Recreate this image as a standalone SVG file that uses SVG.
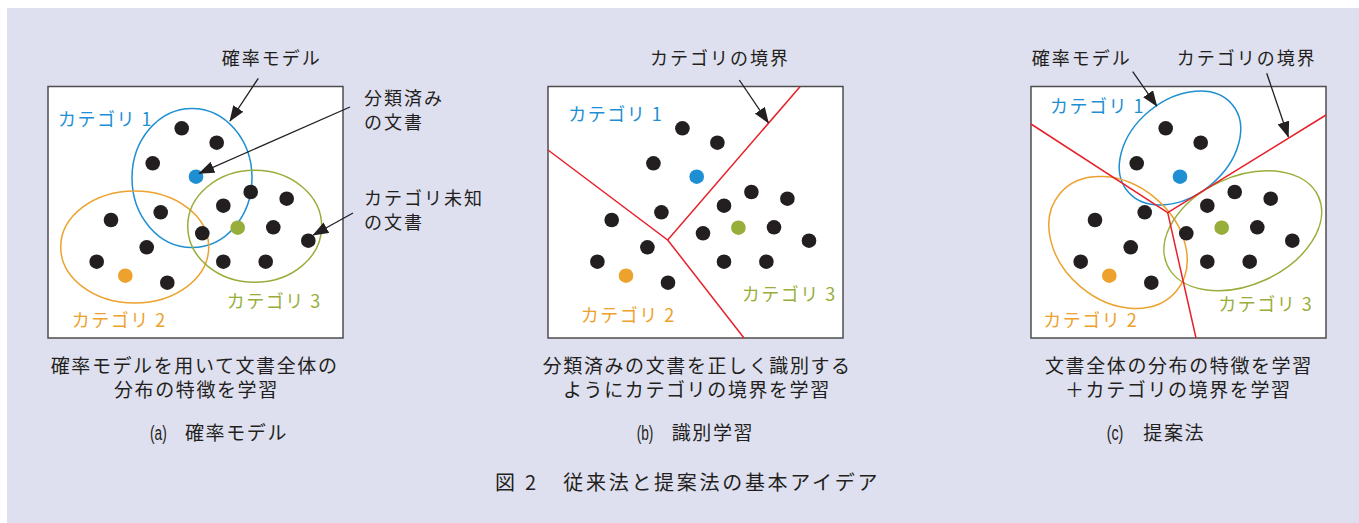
<svg xmlns="http://www.w3.org/2000/svg" width="1359" height="523" viewBox="0 0 1359 523">
<style>
.t{font-family:"Noto Sans CJK JP","Noto Sans",sans-serif;fill:#231f20;}
.lab{font-size:18px;letter-spacing:2px;}
.cap{font-size:19px;letter-spacing:1.6px;}
.ttl{font-size:20px;letter-spacing:2.7px;}
.par{font-family:"Liberation Sans",sans-serif;font-size:20px;fill:#231f20;}
.c1{fill:#1e8fd2;font-size:18px;letter-spacing:1.5px;}
.c2{fill:#eda22e;font-size:18px;letter-spacing:1.5px;}
.c3{fill:#98ae3a;font-size:18px;letter-spacing:1.5px;}
.box{fill:#fff;stroke:#4d4d4d;stroke-width:1.5;}
.e1{fill:none;stroke:#1e8fd2;stroke-width:1.5;}
.e2{fill:none;stroke:#eda22e;stroke-width:1.5;}
.e3{fill:none;stroke:#98ae3a;stroke-width:1.5;}
.bd{fill:none;stroke:#e8202a;stroke-width:1.5;}
.ar{stroke:#231f20;stroke-width:1.3;fill:none;marker-end:url(#ah);}
.k{fill:#231f20;}
.b{fill:#1e8fd2;}
.o{fill:#eda22e;}
.g{fill:#98ae3a;}
</style>
<defs>
<marker id="ah" markerUnits="userSpaceOnUse" markerWidth="16" markerHeight="12" refX="15" refY="6" orient="auto">
<path d="M0,0 L16,6 L0,12 Z" fill="#231f20"/>
</marker>
<g id="dots">
<circle class="k" cx="181.7" cy="128.3" r="7.3"/>
<circle class="k" cx="216.7" cy="142.7" r="7.3"/>
<circle class="k" cx="152.7" cy="163.3" r="7.3"/>
<circle class="b" cx="196" cy="176.7" r="7.3"/>
<circle class="k" cx="160.7" cy="212.3" r="7.3"/>
<circle class="k" cx="111" cy="220" r="7.3"/>
<circle class="k" cx="146.7" cy="247.3" r="7.3"/>
<circle class="k" cx="96.7" cy="261.7" r="7.3"/>
<circle class="o" cx="125.3" cy="275.7" r="7.3"/>
<circle class="k" cx="167.3" cy="282.7" r="7.3"/>
<circle class="k" cx="250.7" cy="192" r="7.3"/>
<circle class="k" cx="286.7" cy="198.7" r="7.3"/>
<circle class="k" cx="223.3" cy="205.7" r="7.3"/>
<circle class="k" cx="202.3" cy="233.3" r="7.3"/>
<circle class="g" cx="237.7" cy="227.7" r="7.3"/>
<circle class="k" cx="273.3" cy="227.3" r="7.3"/>
<circle class="k" cx="308.3" cy="240.7" r="7.3"/>
<circle class="k" cx="223.3" cy="261.7" r="7.3"/>
<circle class="k" cx="265.7" cy="261.7" r="7.3"/>
</g>
</defs>
<rect x="0" y="0" width="1359" height="523" fill="#fff"/>
<rect x="7" y="8" width="1352" height="515" fill="#dfe0ef"/>

<g id="panel-a">
<rect class="box" x="48" y="86.5" width="295" height="251.5"/>
<ellipse class="e1" cx="192" cy="178" rx="60" ry="69.5"/>
<ellipse class="e2" cx="134.7" cy="247" rx="74" ry="56"/>
<ellipse class="e3" cx="254.7" cy="226.3" rx="67" ry="56"/>
<use href="#dots"/>
<text class="t c1" x="58" y="126">カテゴリ 1</text>
<text class="t c2" x="71.7" y="327">カテゴリ 2</text>
<text class="t c3" x="226.7" y="307.5">カテゴリ 3</text>
</g>

<g id="panel-b">
<rect class="box" x="548" y="86.5" width="295" height="251.5"/>
<polyline class="bd" points="548,150 667.7,240 800,86.7"/>
<line class="bd" x1="667.7" y1="240" x2="744" y2="338"/>
<use href="#dots" transform="translate(500.7,0)"/>
<text class="t c1" x="568.3" y="120.5">カテゴリ 1</text>
<text class="t c2" x="580.7" y="322">カテゴリ 2</text>
<text class="t c3" x="741.7" y="300.5">カテゴリ 3</text>
</g>

<g id="panel-c">
<rect class="box" x="1031" y="86.5" width="295" height="251.5"/>
<ellipse class="e1" cx="1180" cy="148" rx="68" ry="48" transform="rotate(-39.6 1180 148)"/>
<ellipse class="e2" cx="1118" cy="242.5" rx="76" ry="58" transform="rotate(40 1118 242.5)"/>
<ellipse class="e3" cx="1242.8" cy="230.8" rx="83" ry="54" transform="rotate(-24.3 1242.8 230.8)"/>
<polyline class="bd" points="1031,124 1167.7,212.7 1326,115"/>
<line class="bd" x1="1167.7" y1="212.7" x2="1196" y2="338"/>
<use href="#dots" transform="translate(984,0)"/>
<text class="t c1" x="1050" y="113">カテゴリ 1</text>
<text class="t c2" x="1043.3" y="327">カテゴリ 2</text>
<text class="t c3" x="1218.3" y="310.5">カテゴリ 3</text>
</g>

<g id="callouts">
<text class="t lab" x="221.7" y="65">確率モデル</text>
<text class="t lab" x="364" y="105">分類済み</text>
<text class="t lab" x="364" y="129">の文書</text>
<text class="t lab" x="364" y="205">カテゴリ未知</text>
<text class="t lab" x="364" y="229">の文書</text>
<text class="t lab" x="650" y="65">カテゴリの境界</text>
<text class="t lab" x="1031.7" y="65">確率モデル</text>
<text class="t lab" x="1176.7" y="65">カテゴリの境界</text>
</g>

<g id="connectors">
<line class="ar" x1="258.3" y1="78.3" x2="230" y2="121"/>
<line class="ar" x1="350" y1="107" x2="199.3" y2="173.3"/>
<line class="ar" x1="353" y1="213" x2="313.3" y2="235"/>
<line class="ar" x1="739.3" y1="80" x2="768.3" y2="122.7"/>
<line class="ar" x1="1132.7" y1="71.7" x2="1156.7" y2="106"/>
<line class="ar" x1="1266.7" y1="73.3" x2="1288.3" y2="136.7"/>
</g>

<g id="captions">
<text class="t cap" x="50.7" y="373">確率モデルを用いて文書全体の</text>
<text class="t cap" x="114" y="397">分布の特徴を学習</text>
<text class="par" x="150" y="440" textLength="16.7" lengthAdjust="spacingAndGlyphs">(a)</text>
<text class="t cap" x="185" y="440">確率モデル</text>

<text class="t cap" x="542.7" y="373">分類済みの文書を正しく識別する</text>
<text class="t cap" x="563" y="397">ようにカテゴリの境界を学習</text>
<text class="par" x="636.7" y="440" textLength="16.7" lengthAdjust="spacingAndGlyphs">(b)</text>
<text class="t cap" x="671.7" y="440">識別学習</text>

<text class="t cap" x="1045" y="373">文書全体の分布の特徴を学習</text>
<text class="t cap" x="1065" y="397">＋カテゴリの境界を学習</text>
<text class="par" x="1106.7" y="440" textLength="16.7" lengthAdjust="spacingAndGlyphs">(c)</text>
<text class="t cap" x="1143.3" y="440">提案法</text>

<text class="t ttl" x="495" y="490">図 2</text>
<text class="t ttl" x="563.3" y="490">従来法と提案法の基本アイデア</text>
</g>
</svg>
